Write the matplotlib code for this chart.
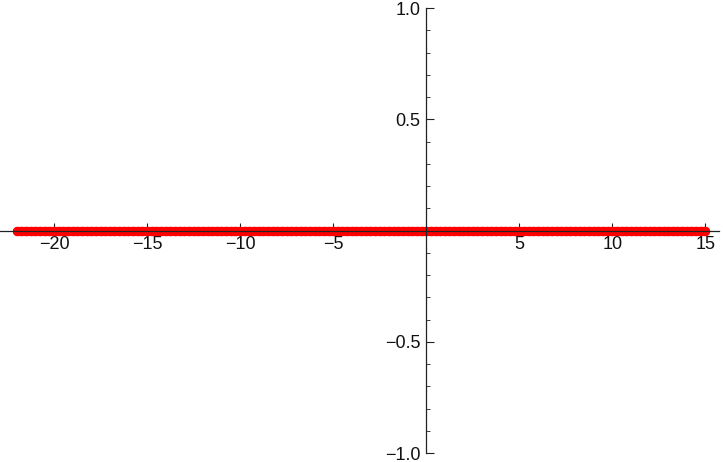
import matplotlib.pyplot as plt
from matplotlib.ticker import MultipleLocator, FixedLocator

# sample points, all lying on y = 0
x_vals = [
    -22.0, -21.75, -21.5, -21.25, -21.0, -20.75, -20.5, -20.25,
    -20.0, -19.75, -19.5, -19.25, -19.0, -18.75, -18.5, -18.25,
    -18.0, -17.75, -17.5, -17.25, -17.0, -16.75, -16.5, -16.25,
    -16.0, -15.75, -15.5, -15.25, -15.0, -14.75, -14.5, -14.25,
    -14.0, -13.75, -13.5, -13.25, -13.0, -12.75, -12.5, -12.25,
    -12.0, -11.75, -11.5, -11.25, -11.0, -10.75, -10.5, -10.25,
    -10.0, -9.75, -9.5, -9.25, -9.0, -8.75, -8.5, -8.25,
    -8.0, -7.75, -7.5, -7.25, -7.0, -6.75, -6.5, -6.25,
    -6.0, -5.75, -5.5, -5.25, -5.0, -4.75, -4.5, -4.25,
    -4.0, -3.75, -3.5, -3.25, -3.0, -2.75, -2.5, -2.25,
    -2.0, -1.75, -1.5, -1.25, -1.0, -0.75, -0.5, -0.25,
    0.0, 0.25, 0.5, 0.75, 1.0, 1.25, 1.5, 1.75,
    2.0, 2.25, 2.5, 2.75, 3.0, 3.25, 3.5, 3.75,
    4.0, 4.25, 4.5, 4.75, 5.0, 5.25, 5.5, 5.75,
    6.0, 6.25, 6.5, 6.75, 7.0, 7.25, 7.5, 7.75,
    8.0, 8.25, 8.5, 8.75, 9.0, 9.25, 9.5, 9.75,
    10.0, 10.25, 10.5, 10.75, 11.0, 11.25, 11.5, 11.75,
    12.0, 12.25, 12.5, 12.75, 13.0, 13.25, 13.5, 13.75,
    14.0, 14.25, 14.5, 14.75, 15.0,
]
y_vals = [0.0] * len(x_vals)

x_ticks = [-20, -15, -10, -5, 5, 10, 15]
y_ticks = [-1.0, -0.5, 0.5, 1.0]

plt.rcParams["font.family"] = ["Liberation Sans", "DejaVu Sans"]

fig = plt.figure(figsize=(7.23, 4.62), dpi=100)
# axes box placed so the axis lines land where the reference has them
ax = fig.add_axes([0.0, 9.0 / 462, 719.0 / 723, 445.0 / 462])

# points are so dense they merge into one band; a fat round-capped line
# under the markers fills the gaps between them
ax.plot(x_vals, y_vals, "-", color="red", linewidth=6.6,
        solid_capstyle="round", zorder=3, clip_on=False)
ax.plot(x_vals, y_vals, "o", color="red", markersize=6.8, markeredgewidth=0,
        zorder=3, clip_on=False)

ax.set_xlim(-22.9, 15.73)
ax.set_ylim(-1.0, 1.0)

ax.spines["top"].set_visible(False)
ax.spines["right"].set_visible(False)
ax.spines["left"].set_position(("data", 0))
ax.spines["bottom"].set_position(("data", 0))
for s in ("left", "bottom"):
    ax.spines[s].set_color("#222222")
    ax.spines[s].set_linewidth(0.9)
    ax.spines[s].set_zorder(4)

ax.xaxis.set_major_locator(FixedLocator(x_ticks))
ax.xaxis.set_minor_locator(MultipleLocator(1))
ax.yaxis.set_major_locator(FixedLocator(y_ticks))
ax.yaxis.set_minor_locator(MultipleLocator(0.1))
ax.set_xticklabels([str(t).replace("-", "\u2212") for t in x_ticks])
ax.set_yticklabels([f"{t:.1f}".replace("-", "\u2212") for t in y_ticks])

ax.tick_params(axis="both", which="both", direction="in", color="#222222",
               labelsize=13, labelcolor="#111111")
ax.tick_params(axis="both", which="major", length=5.5, width=0.8, pad=4)
ax.tick_params(axis="both", which="minor", length=3.2, width=0.6)
ax.patch.set_alpha(0)

fig.savefig("out.png", dpi=100)
